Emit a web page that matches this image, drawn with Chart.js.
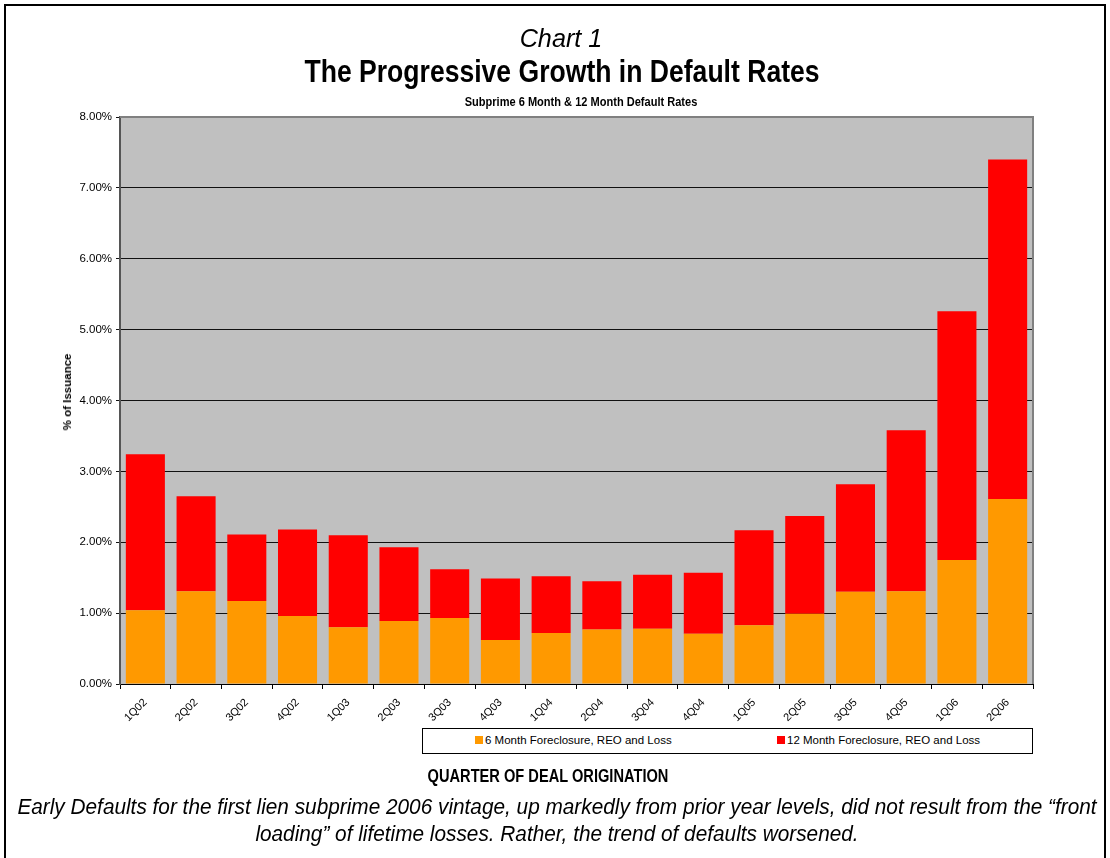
<!DOCTYPE html>
<html>
<head>
<meta charset="utf-8">
<script src="https://cdn.jsdelivr.net/npm/chart.js@4.4.1/dist/chart.umd.min.js"></script>
<style>
  html, body { margin:0; padding:0; background:#fff; }
  body { width:1110px; height:858px; position:relative; overflow:hidden; font-family:'Liberation Sans', Arial, sans-serif; }
  #frame { position:absolute; left:4px; top:4px; width:1102px; height:900px; border:2px solid #000; box-sizing:border-box; }
  #c { position:absolute; left:0; top:0; }
  .txt { position:absolute; color:#000; white-space:nowrap; transform-origin:50% 50%; }
  #legend { position:absolute; left:422px; top:728px; width:611px; height:26px; border:1px solid #000; box-sizing:border-box; background:#fff; font-size:11.5px; }
  .lg { position:absolute; top:5px; }
  .sw { display:inline-block; width:8px; height:8px; margin-right:2px; vertical-align:0px; }
</style>
</head>
<body>
<div id="frame"></div>
<canvas id="c" width="1110" height="858"></canvas>

<div class="txt" style="left:561px;top:23px;font-size:26px;font-style:italic;transform:translateX(-50%) scaleX(0.97);">Chart 1</div>
<div class="txt" style="left:562px;top:53px;font-size:32px;font-weight:bold;transform:translateX(-50%) scaleX(0.83);">The Progressive Growth in Default Rates</div>
<div class="txt" style="left:581px;top:94px;font-size:13px;font-weight:bold;transform:translateX(-50%) scaleX(0.85);">Subprime 6 Month &amp; 12 Month Default Rates</div>
<div class="txt" style="left:67px;top:392px;font-size:11.5px;font-weight:bold;transform:translate(-50%,-50%) rotate(-90deg);">% of Issuance</div>

<div id="legend">
  <div class="lg" style="left:52px"><span class="sw" style="background:#FF9900"></span>6 Month Foreclosure, REO and Loss</div>
  <div class="lg" style="left:354px"><span class="sw" style="background:#FF0000"></span>12 Month Foreclosure, REO and Loss</div>
</div>

<div class="txt" style="left:548px;top:765px;font-size:19px;font-weight:bold;transform:translateX(-50%) scaleX(0.77);">QUARTER OF DEAL ORIGINATION</div>
<div class="txt" style="left:557px;top:794px;font-size:22px;font-style:italic;transform:translateX(-50%) scaleX(0.945);">Early Defaults for the first lien subprime 2006 vintage, up markedly from prior year levels, did not result from the “front</div>
<div class="txt" style="left:557px;top:821px;font-size:22px;font-style:italic;transform:translateX(-50%) scaleX(0.945);">loading” of lifetime losses. Rather, the trend of defaults worsened.</div>

<script>
// données (en %)
const quarters = ['1Q02','2Q02','3Q02','4Q02','1Q03','2Q03','3Q03','4Q03','1Q04','2Q04','3Q04','4Q04','1Q05','2Q05','3Q05','4Q05','1Q06','2Q06'];
const sixMonth = [1.04,1.31,1.17,0.96,0.80,0.89,0.93,0.62,0.72,0.77,0.78,0.71,0.83,0.99,1.30,1.31,1.75,2.61];
// part supplémentaire à 12 mois (empilée au-dessus)
const twelveMonthExtra = [2.20,1.34,0.94,1.22,1.30,1.04,0.69,0.87,0.80,0.68,0.76,0.86,1.34,1.38,1.52,2.27,3.51,4.79];
const yTicks = [0,1,2,3,4,5,6,7,8];

const plotBg = {
  id: 'plotBg',
  beforeDraw(chart) {
    const {ctx, chartArea: a} = chart;
    ctx.save();
    ctx.fillStyle = '#C0C0C0';
    ctx.fillRect(a.left, a.top, a.right - a.left, a.bottom - a.top);
    ctx.restore();
  },
  afterDraw(chart) {
    const {ctx, chartArea: a} = chart;
    ctx.save();
    ctx.strokeStyle = '#808080';
    ctx.lineWidth = 2;
    ctx.beginPath();
    ctx.moveTo(a.left, a.top); ctx.lineTo(a.right, a.top); ctx.lineTo(a.right, a.bottom);
    ctx.stroke();
    ctx.restore();
  }
};

new Chart(document.getElementById('c'), {
  type: 'bar',
  data: {
    labels: quarters,
    datasets: [
      { label:'6 Month Foreclosure, REO and Loss', data: sixMonth, backgroundColor:'#FF9900', barPercentage:0.77, categoryPercentage:1 },
      { label:'12 Month Foreclosure, REO and Loss', data: twelveMonthExtra, backgroundColor:'#FF0000', barPercentage:0.77, categoryPercentage:1 }
    ]
  },
  options: {
    responsive:false, animation:false, devicePixelRatio:1,
    layout: { padding: { left:57, right:77, top:117, bottom:130 } },
    plugins: { legend:{display:false}, tooltip:{enabled:false} },
    scales: {
      x: {
        stacked:true,
        afterFit: s => { s.height = 44; },
        border: { color:'#000', width:1 },
        grid: { drawOnChartArea:false, drawTicks:true, tickLength:5, color:'#000' },
        ticks: { color:'#000', font:{ family:'Liberation Sans', size:11 }, minRotation:45, maxRotation:45, autoSkip:false, padding:7 }
      },
      y: {
        stacked:true, min:0, max:8,
        afterFit: s => { s.width = 63; },
        afterBuildTicks: s => { s.ticks = yTicks.map(v => ({ value:v })); },
        border: { color:'#555', width:2 },
        grid: { color:'#111', lineWidth:1, tickLength:4 },
        ticks: { color:'#000', font:{ family:'Liberation Sans', size:11.5 }, padding:4, callback: v => v.toFixed(2) + '%' }
      }
    }
  },
  plugins: [plotBg]
});
</script>
</body>
</html>
